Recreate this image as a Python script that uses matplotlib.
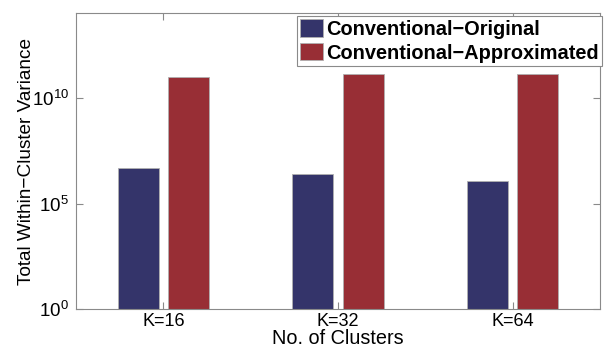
import matplotlib
matplotlib.use("Agg")
import matplotlib.pyplot as plt
import numpy as np
from matplotlib.ticker import FixedLocator, FixedFormatter, NullLocator

plt.rcParams['font.family'] = ['Liberation Sans', 'DejaVu Sans']
plt.rcParams['mathtext.default'] = 'regular'

categories = ["K=16", "K=32", "K=64"]
series_names = ["Conventional\u2212Original", "Conventional\u2212Approximated"]
original = [4.7e6, 2.4e6, 1.17e6]
approximated = [9.7e10, 1.35e11, 1.35e11]
ytick_vals = [1, 1e5, 1e10]
ytick_labels = ["$10^{0}$", "$10^{5}$", "$10^{10}$"]
colors = ["#34346a", "#982e35"]

fig = plt.figure(figsize=(6.04, 3.49), dpi=100)
ax = fig.add_axes([76/604, 1-309.3/349, 524/604, (309.3-13.3)/349])

x = np.arange(1, len(categories)+1)
w = 0.233
off = 0.144
ax.bar(x-off, original, width=w, color=colors[0], edgecolor="#b0b0b0", linewidth=0.6, label=series_names[0])
ax.bar(x+off, approximated, width=w, color=colors[1], edgecolor="#b0b0b0", linewidth=0.6, label=series_names[1])

ax.set_yscale('log')
ax.set_ylim(1, 1e14)
ax.set_xlim(0.5, 3.5)
ax.yaxis.set_major_locator(FixedLocator(ytick_vals))
ax.yaxis.set_major_formatter(FixedFormatter(ytick_labels))
ax.yaxis.set_minor_locator(NullLocator())
ax.set_xticks(x)
ax.set_xticklabels(categories)

for s in ax.spines.values():
    s.set_color("#8a8a8a")
    s.set_linewidth(0.8)
ax.tick_params(direction='in', length=5, width=0.8, color="#8a8a8a",
               top=True, right=True, pad=4)
ax.tick_params(axis='x', labelsize=13, pad=3)
ax.tick_params(axis='y', labelsize=13.5, pad=5)

ax.set_xlabel("No. of Clusters", fontsize=14.3, labelpad=-1)
ax.set_ylabel("Total Within\u2212Cluster Variance", fontsize=13.7, labelpad=-2)

leg = ax.legend(loc='upper right', bbox_to_anchor=(1.0 + 2/524, 1-3/296), prop={'weight': 'bold', 'size': 14.4},
                fancybox=False, framealpha=1, edgecolor="#8a8a8a", borderpad=0.15,
                handlelength=1.15, handleheight=0.95, handletextpad=0.15, labelspacing=0.22,
                borderaxespad=0)
leg.get_frame().set_linewidth(0.8)

fig.savefig("out.png", dpi=100)
